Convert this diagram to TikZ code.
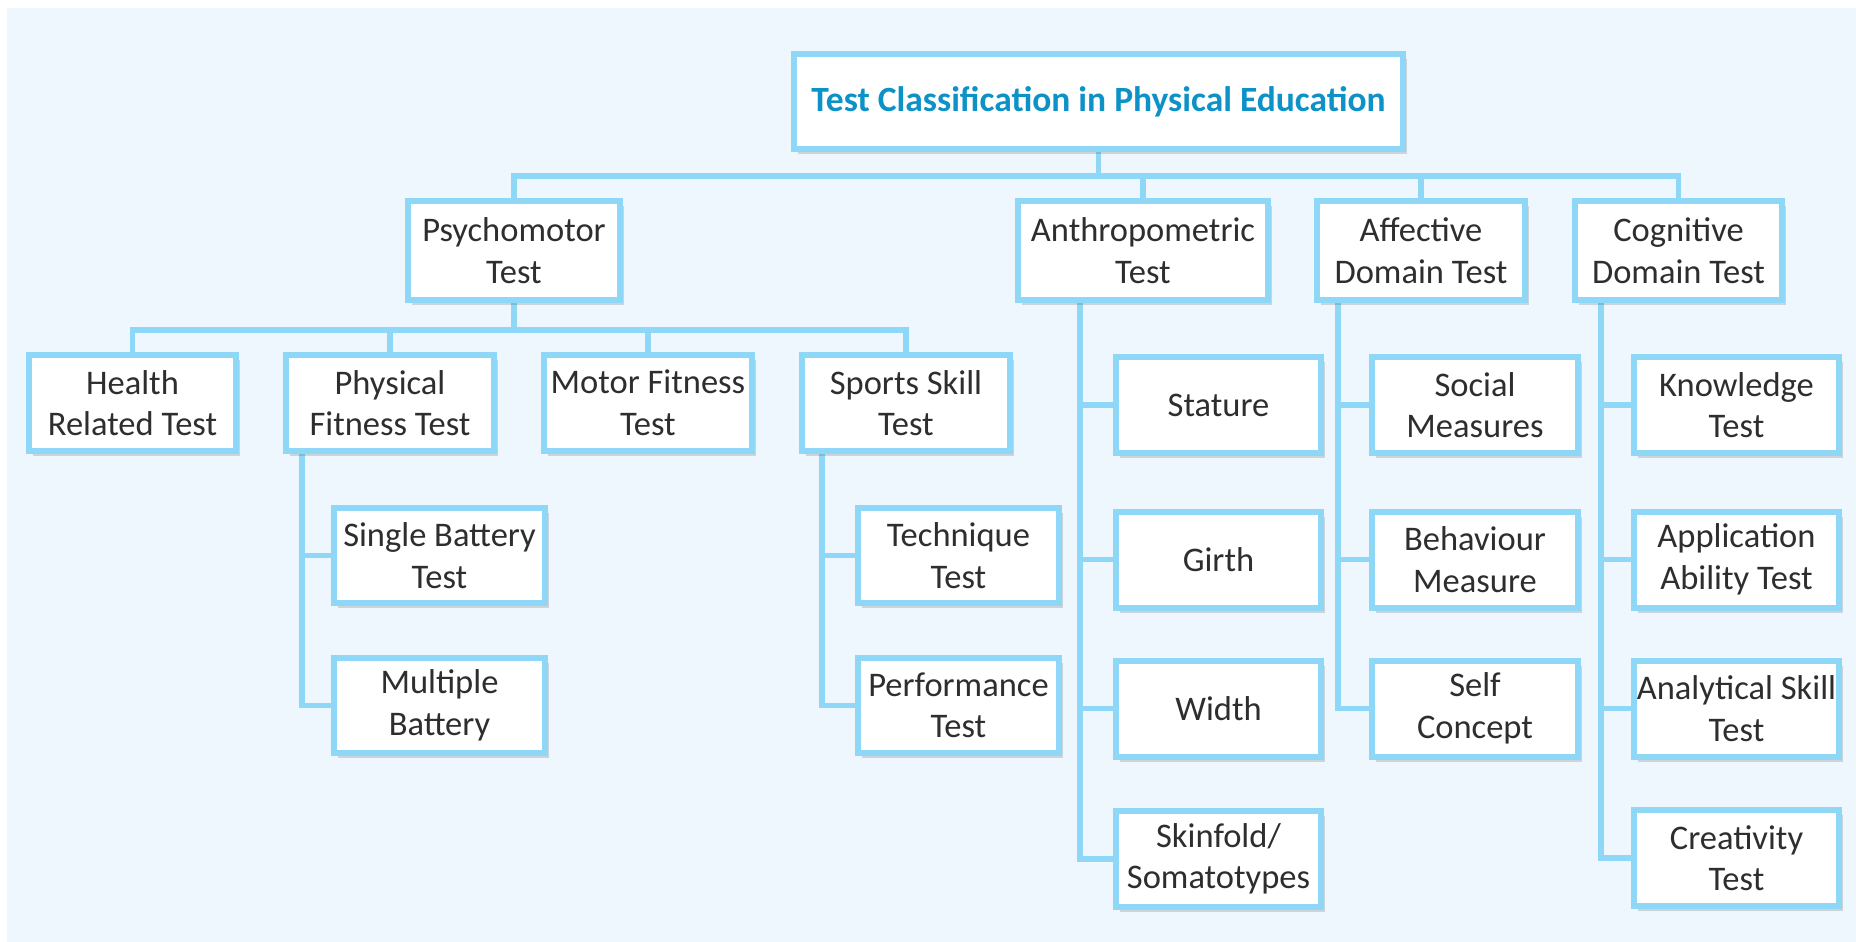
\documentclass[tikz,border=0pt]{standalone}
\usepackage{fontspec}
\setmainfont{Carlito}
\usetikzlibrary{shadows,backgrounds}
\definecolor{bgc}{HTML}{EDF7FD}
\definecolor{bluel}{HTML}{8ED7F7}
\definecolor{titlec}{HTML}{0C92C6}
\definecolor{txt}{HTML}{2E2E2E}
\tikzset{
  x=1pt, y=-1pt,
  box/.style={draw=bluel, line width=6pt, fill=white, align=center, inner sep=0pt,
    text=txt, font=\fontsize{34.5}{41.5}\selectfont,
    drop shadow={shadow xshift=4pt, shadow yshift=-5pt, opacity=0.2, fill=black!70}},
  lvone/.style={box, minimum height=99pt},
  lvtwo/.style={box, minimum height=96pt, minimum width=208pt},
  leaf/.style={box, minimum height=96pt},
  conn/.style={draw=bluel, line width=5.5pt},
}
\begin{document}
\begin{tikzpicture}
\useasboundingbox (0,0) rectangle (1856,942);
% title
\node[box, minimum width=609pt, minimum height=95pt, text=titlec,
  font=\fontsize{35.5}{42}\selectfont\bfseries] (title) at (1098.5,101.5)
  {Test Classification in Physical Education};
% level 1
\node[lvone, minimum width=212pt] (psy) at (514,250.5) {Psychomotor\\Test};
\node[lvone, minimum width=250pt] (ant) at (1143,250.5) {Anthropometric\\Test};
\node[lvone, minimum width=208pt] (aff) at (1421,250.5) {Affective\\Domain Test};
\node[lvone, minimum width=207pt] (cog) at (1678.5,250.5) {Cognitive\\Domain Test};
% level 2
\node[lvtwo, minimum width=207pt] (hea) at (132.5,403) {Health\\Related Test};
\node[lvtwo] (phy) at (390,403) {Physical\\Fitness Test};
\node[lvtwo] (mot) at (648,403) {Motor Fitness\\Test};
\node[lvtwo] (spo) at (906,403) {Sports Skill\\Test};
% physical fitness children
\node[leaf, minimum width=211pt, minimum height=95pt] (sin) at (439.5,555.5) {Single Battery\\Test};
\node[leaf, minimum width=211pt, minimum height=95pt] (mul) at (439.5,705.5) {Multiple\\Battery};
% sports skill children
\node[leaf, minimum width=201pt, minimum height=95pt] (tec) at (958.5,555.5) {Technique\\Test};
\node[leaf, minimum width=201pt, minimum height=95pt] (per) at (958.5,705.5) {Performance\\Test};
% anthropometric children
\node[leaf, minimum width=205pt] (sta) at (1218.5,405) {Stature};
\node[leaf, minimum width=205pt] (gir) at (1218.5,559.5) {Girth};
\node[leaf, minimum width=205pt] (wid) at (1218.5,708.5) {Width};
\node[leaf, minimum width=205pt] (ski) at (1218.5,859) {Skinfold/\\Somatotypes};
% affective children
\node[leaf, minimum width=206pt] (soc) at (1475,405) {Social\\Measures};
\node[leaf, minimum width=206pt] (beh) at (1475,559.5) {Behaviour\\Measure};
\node[leaf, minimum width=206pt] (sel) at (1475,708.5) {Self\\Concept};
% cognitive children
\node[leaf, minimum width=205pt] (kno) at (1736.5,405) {Knowledge\\Test};
\node[leaf, minimum width=205pt] (app) at (1736.5,559.5) {Application\\Ability Test};
\node[leaf, minimum width=205pt] (ana) at (1736.5,708.5) {Analytical Skill\\Test};
\node[leaf, minimum width=205pt] (cre) at (1736.5,858) {Creativity\\Test};

\begin{pgfonlayer}{background}
  \fill[bgc] (7,8) rectangle (1856,942);
  % main bus
  \coordinate (mainbus) at (title.south |- 0,176);
  \draw[conn] (title.south) -- (mainbus);
  \draw[conn] (psy.north) |- (mainbus) -| (cog.north);
  \draw[conn] (ant.north) -- (ant.north |- mainbus);
  \draw[conn] (aff.north) -- (aff.north |- mainbus);
  % psychomotor bus
  \coordinate (pbus) at (psy.south |- 0,330);
  \draw[conn] (psy.south) -- (pbus);
  \draw[conn] (hea.north) |- (pbus) -| (spo.north);
  \draw[conn] (phy.north) -- (phy.north |- pbus);
  \draw[conn] (mot.north) -- (mot.north |- pbus);
  % physical fitness branch
  \coordinate (phyv) at (phy.south -| 302,0);
  \draw[conn] (phyv) |- (mul.west);
  \draw[conn] (phyv |- sin.west) -- (sin.west);
  % sports skill branch
  \coordinate (spov) at (spo.south -| 822,0);
  \draw[conn] (spov) |- (per.west);
  \draw[conn] (spov |- tec.west) -- (tec.west);
  % anthropometric branch
  \coordinate (antv) at (ant.south -| 1080,0);
  \draw[conn] (antv) |- (ski.west);
  \draw[conn] (antv |- sta.west) -- (sta.west);
  \draw[conn] (antv |- gir.west) -- (gir.west);
  \draw[conn] (antv |- wid.west) -- (wid.west);
  % affective branch
  \coordinate (affv) at (aff.south -| 1338,0);
  \draw[conn] (affv) |- (sel.west);
  \draw[conn] (affv |- soc.west) -- (soc.west);
  \draw[conn] (affv |- beh.west) -- (beh.west);
  % cognitive branch
  \coordinate (cogv) at (cog.south -| 1601,0);
  \draw[conn] (cogv) |- (cre.west);
  \draw[conn] (cogv |- kno.west) -- (kno.west);
  \draw[conn] (cogv |- app.west) -- (app.west);
  \draw[conn] (cogv |- ana.west) -- (ana.west);
\end{pgfonlayer}
\end{tikzpicture}
\end{document}
